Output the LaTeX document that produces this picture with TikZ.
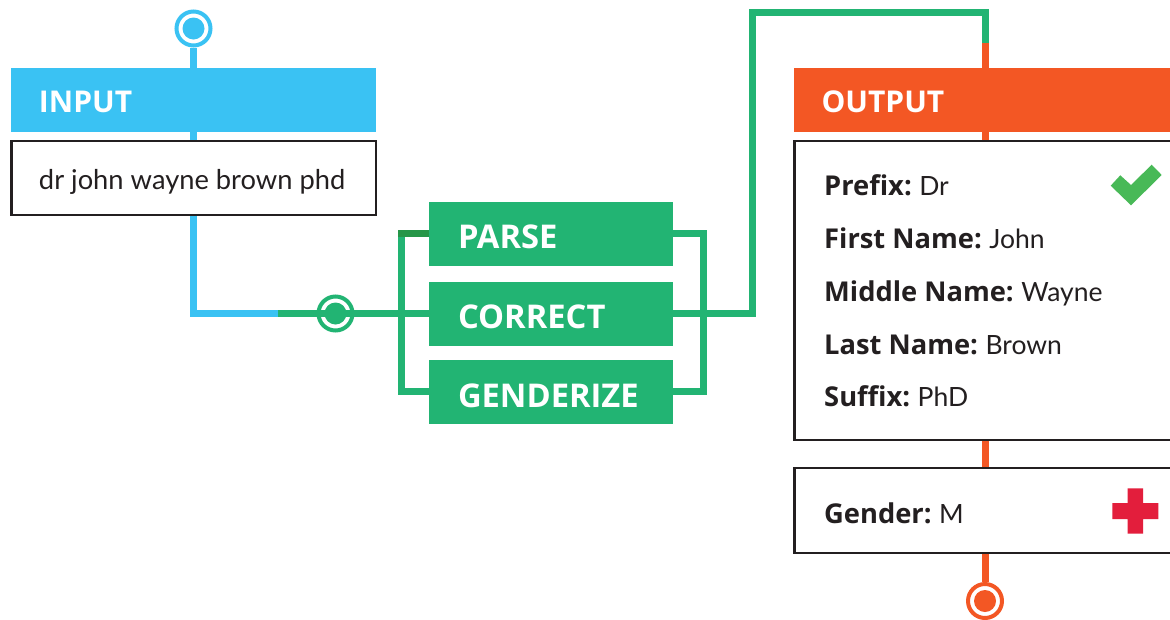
\documentclass[tikz,border=0pt]{standalone}
\usepackage{fontspec}
\setmainfont{Lato}
\newfontfamily\headfont{Open Sans}
\definecolor{cblue}{HTML}{3AC2F3}
\definecolor{cgreen}{HTML}{22B473}
\definecolor{cdark}{HTML}{269648}
\definecolor{corange}{HTML}{F35724}
\definecolor{cink}{HTML}{231F20}
\definecolor{ccheck}{HTML}{48B957}
\definecolor{ccross}{HTML}{E31E3C}
\tikzset{
  x=1pt,y=-1pt,
  headbox/.style={fill=#1,inner sep=0pt,minimum height=64pt,text=white,anchor=center,
    font=\headfont\bfseries\fontsize{30}{30}\selectfont,align=left},
  stagebox/.style={headbox=#1,font=\headfont\bfseries\fontsize{32.7}{33}\selectfont},
  ringnode/.style={circle,draw=#1,fill=white,line width=4pt,minimum size=34pt,inner sep=0pt,
    path picture={\fill[#1] (path picture bounding box.center) circle (11pt);}},
  whitebox/.style={draw=cink,line width=2.5pt,fill=white,inner sep=0pt,anchor=center},
  wire/.style={line width=7pt,#1},
  field/.style={anchor=base west,inner sep=0pt,text=cink,font=\fontsize{26.5}{26}\selectfont},
}
% width, left gap, baseline drop below the box centre, text
\newcommand{\hlabel}[4]{\makebox[#1pt][l]{\hspace{#2pt}\raisebox{-#3pt}[0pt][0pt]{#4}}}
\newcommand{\hv}[1]{{\headfont\bfseries\fontsize{27.3}{26}\selectfont #1}\hspace{-1.5pt}}
\begin{document}
\begin{tikzpicture}
\useasboundingbox (0,0) rectangle (1170,619);
% input column
\node[ringnode=cblue] (inring) at (193.5,28.5) {};
\node[headbox=cblue,minimum width=365pt] (inhead) at (193.5,100) {\hlabel{365}{28}{12}{INPUT}};
\node[whitebox,minimum width=364.5pt,minimum height=74pt,text=cink,font=\fontsize{27.3}{27}\selectfont] (inbox) at (193.5,178) {\hlabel{363}{27}{11}{dr john wayne brown phd}};
% process boxes
\node[stagebox=cgreen,minimum width=244pt] (parse) at (551,233.5) {\hlabel{244}{29}{14.5}{PARSE}};
\node[stagebox=cgreen,minimum width=244pt] (correct) at (551,313.5) {\hlabel{244}{29}{15}{CORRECT}};
\node[stagebox=cgreen,minimum width=244pt] (gender) at (551,391.5) {\hlabel{244}{29}{15.5}{GENDERIZE}};
\node[ringnode=cgreen] (junction) at (335.5,313.5) {};
% output column
\node[headbox=corange,minimum width=382pt] (outhead) at (985,100) {\hlabel{382}{27.5}{12}{OUTPUT}};
\node[whitebox,minimum width=381pt,minimum height=299pt] (outbox) at (985,290.5) {};
\node[whitebox,minimum width=381pt,minimum height=85pt] (genbox) at (985,510.5) {};
\node[ringnode=corange] (outring) at (985,601) {};
% free ends
\coordinate (bluecorner) at (193.5,313.5);
\coordinate (blueend) at (278,313.5);
\coordinate (leftbustop) at (401.5,237);
\coordinate (leftbuscorner) at (401.5,391.5);
\coordinate (leftbusmark) at (398,233.5);
\coordinate (rightbustop) at (703.5,233.5);
\coordinate (rightbusbot) at (703.5,391.5);
\coordinate (upcorner) at (752.5,313.5);
\coordinate (topleft) at (752.5,12.5);
\coordinate (topright) at (985,12.5);
\coordinate (colourchange) at (985,43);
% blue connectors
\draw[wire=cblue] (inring) -- (inhead);
\draw[wire=cblue] (inhead) -- (inbox);
\draw[wire=cblue] (inbox.south) -- (bluecorner) -- (blueend);
% green connectors
\draw[wire=cgreen] (blueend) -- (correct.west);
\draw[wire=cgreen] (leftbustop) -- (leftbuscorner) -- (gender.west);
\draw[wire=cdark] (parse.west) -- (leftbusmark);
\draw[wire=cgreen] (parse.east) -- (rightbustop) -- (rightbusbot) -- (gender.east);
\draw[wire=cgreen] (correct.east) -- (upcorner) -- (topleft) -- (topright) -- (colourchange);
% orange connectors
\draw[wire=corange] (colourchange) -- (outhead.north);
\draw[wire=corange] (outhead.south) -- (outbox.north);
\draw[wire=corange] (outbox.south) -- (genbox.north);
\draw[wire=corange] (genbox.south) -- (outring.north);
% output fields
\node[field] (f1) at (824,195) {\hv{Prefix:} Dr};
\node[field] (f2) at (824,248) {\hv{First Name:} John};
\node[field] (f3) at (824,301) {\hv{Middle Name:} Wayne};
\node[field] (f4) at (824,354) {\hv{Last Name:} Brown};
\node[field] (f5) at (824,406) {\hv{Suffix:} PhD};
\node[field] (f6) at (824,523) {\hv{Gender:} M};
% icons
\fill[ccheck] (1110.7,185.7) -- (1120.3,175.3) -- (1131,185) -- (1151.7,164.7) -- (1161.7,175) -- (1131,205.3) -- cycle;
\fill[ccross] (1127.7,488.3) -- (1143,488.3) -- (1143,503) -- (1158.3,503) -- (1158.3,519) -- (1143,519) -- (1143,533.7) -- (1127.7,533.7) -- (1127.7,519) -- (1112.3,519) -- (1112.3,503) -- (1127.7,503) -- cycle;
\end{tikzpicture}
\end{document}
